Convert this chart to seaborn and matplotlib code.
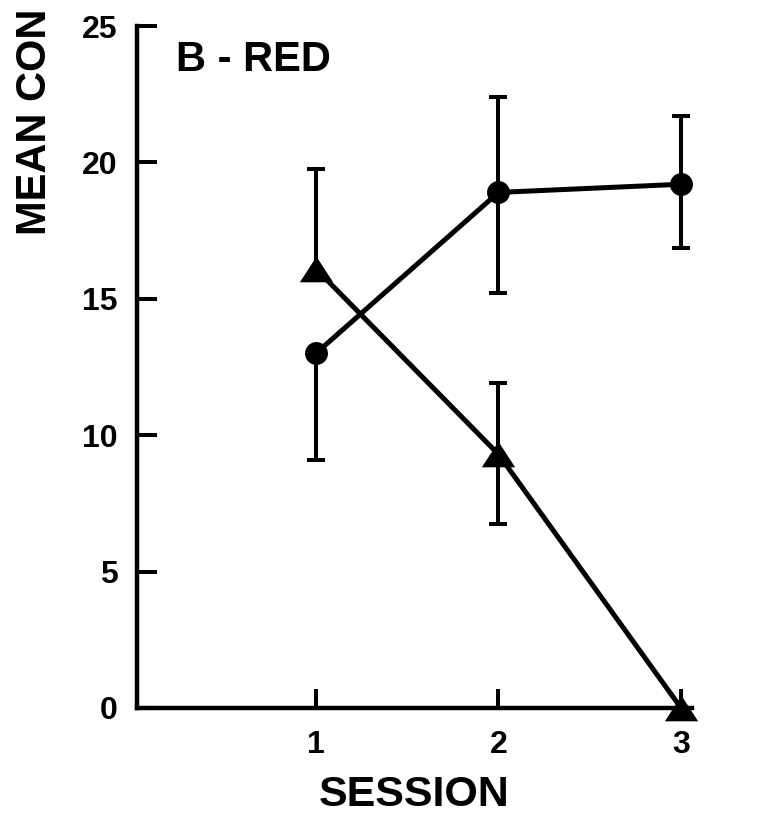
import numpy as np
import pandas as pd
import matplotlib
matplotlib.use("Agg")
import matplotlib.pyplot as plt
import seaborn as sns

# values (panel B - RED)
sessions = [1, 2, 3]
circle_mean = [13.0, 18.9, 19.2]
circle_low = [9.1, 15.2, 16.85]
circle_high = [np.nan, 22.4, 21.7]
triangle_mean = [16.1, 9.3, 0.0]
triangle_low = [np.nan, 6.75, np.nan]
triangle_high = [19.75, 11.9, np.nan]
y_ticks = [0, 5, 10, 15, 20, 25]
x_tick_labels = ["1", "2", "3"]

sns.set_style("ticks", {"axes.edgecolor": "black", "xtick.color": "black",
                        "ytick.color": "black", "text.color": "black",
                        "axes.labelcolor": "black"})
plt.rcParams["font.family"] = ["Liberation Sans", "DejaVu Sans"]
plt.rcParams["font.weight"] = "bold"

df_circ = pd.DataFrame({"session": sessions, "mean": circle_mean,
                        "low": circle_low, "high": circle_high})
df_tri = pd.DataFrame({"session": sessions, "mean": triangle_mean,
                       "low": triangle_low, "high": triangle_high})

fig = plt.figure(figsize=(7.67, 8.24), dpi=100)
ax = fig.add_axes([0.1786, 0.1408, 0.7236, 0.8276])

tri_marker = [(-1.3, -1.0), (1.3, -1.0), (0.0, 1.0), (-1.3, -1.0)]

for df in (df_circ, df_tri):
    for col in ("low", "high"):
        sub = df.dropna(subset=[col])
        ax.vlines(sub["session"], sub["mean"], sub[col], color="black", lw=2.9, zorder=2)
        ax.plot(sub["session"], sub[col], ls="", marker="_", ms=13, mew=2.9,
                color="black", zorder=2)

sns.lineplot(data=df_circ, x="session", y="mean", ax=ax, color="black", lw=3.6,
             marker="o", markersize=16.5, markeredgewidth=0, zorder=3)
sns.lineplot(data=df_tri, x="session", y="mean", ax=ax, color="black", lw=3.6,
             marker=tri_marker, markersize=24, markeredgewidth=0, zorder=3,
             clip_on=False)

ax.set_xlim(0.02, 3.06)
ax.set_ylim(0, 25)
ax.set_xticks(sessions)
ax.set_xticklabels(x_tick_labels)
ax.set_yticks(y_ticks)
sns.despine(ax=ax)
for side in ("left", "bottom"):
    ax.spines[side].set_linewidth(3.2)
ax.tick_params(axis="y", direction="in", length=14.5, width=2.9, pad=14, labelsize=23)
ax.tick_params(axis="x", direction="in", length=14, width=2.9, pad=16, labelsize=23)

ax.set_xlabel("SESSION", fontsize=31, fontweight="bold", labelpad=11)
ax.set_ylabel("")
ax.text(0.07, 0.98, "B - RED", transform=ax.transAxes, fontsize=30,
        fontweight="bold", ha="left", va="top")
fig.text(0.02, 0.715, "MEAN CON", rotation=90, fontsize=30, fontweight="bold",
         ha="left", va="bottom")

fig.savefig("out.png", dpi=100, facecolor="white")
